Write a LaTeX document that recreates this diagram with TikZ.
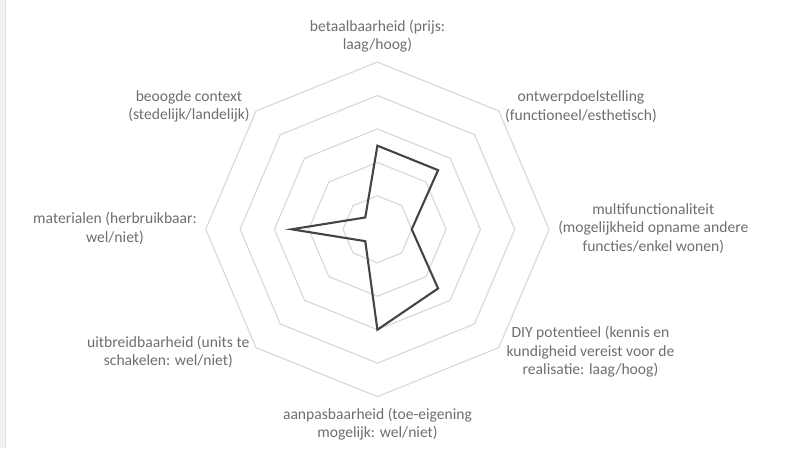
\documentclass[tikz,border=0pt]{standalone}
\usepackage{fontspec}
\setmainfont{Carlito}
\definecolor{txt}{HTML}{6E6E6E}
\definecolor{gridc}{HTML}{D9D9D9}
\definecolor{datc}{HTML}{444444}
\begin{document}
\begin{tikzpicture}[x=1pt,y=-1pt,
  lbl/.style={align=center,text=txt,font=\fontsize{15.6}{18.6}\selectfont,inner sep=0pt},
  gridline/.style={draw=gridc,line width=1.2pt,line join=miter},
  dataline/.style={draw=datc,line width=2.1pt,line join=miter}]
\useasboundingbox (0,0) rectangle (786,448);
\fill[gray!10] (0,0) rectangle (5,448);
\draw[gray!25,line width=0.8pt] (5,0) -- (5,448);
\def\cx{377.4}\def\cy{229.3}\def\sx{1.026}\def\rs{33.46}
\foreach \k in {1,...,5}{
  \draw[gridline] ({\cx},{\cy-\rs*\k})
    \foreach \i in {1,...,7}{ -- ({\cx+\sx*\rs*\k*cos(90-45*\i)},{\cy-\rs*\k*sin(90-45*\i)}) } -- cycle;
}
\foreach \v [count=\i from 0] in {2.5,2.5,1,2.5,3,0.5,2.5,0.5}{
  \coordinate (d\i) at ({\cx+\sx*\rs*\v*cos(90-45*\i)},{\cy-\rs*\v*sin(90-45*\i)});
}
\draw[dataline] (d0) -- (d1) -- (d2) -- (d3) -- (d4) -- (d5) -- (d6) -- (d7) -- cycle;
\node[lbl] (l0) at (377.5,36) {betaalbaarheid (prijs:\\laag/hoog)};
\node[lbl] (l1) at (581,106.5) {ontwerpdoelstelling\\(functioneel/esthetisch)};
\node[lbl] (l2) at (653.3,228.5) {multifunctionaliteit\\(mogelijkheid opname andere\\functies/enkel wonen)};
\node[lbl] (l3) at (590.5,351.7) {DIY potentieel (kennis en\\kundigheid vereist voor de\\realisatie: laag/hoog)};
\node[lbl] (l4) at (377.5,424) {aanpasbaarheid (toe-eigening\\mogelijk: wel/niet)};
\node[lbl] (l5) at (168.3,352) {uitbreidbaarheid (units te\\schakelen: wel/niet)};
\node[lbl] (l6) at (115,228.5) {materialen (herbruikbaar:\\wel/niet)};
\node[lbl] (l7) at (189,106.5) {beoogde context\\(stedelijk/landelijk)};
\end{tikzpicture}
\end{document}
